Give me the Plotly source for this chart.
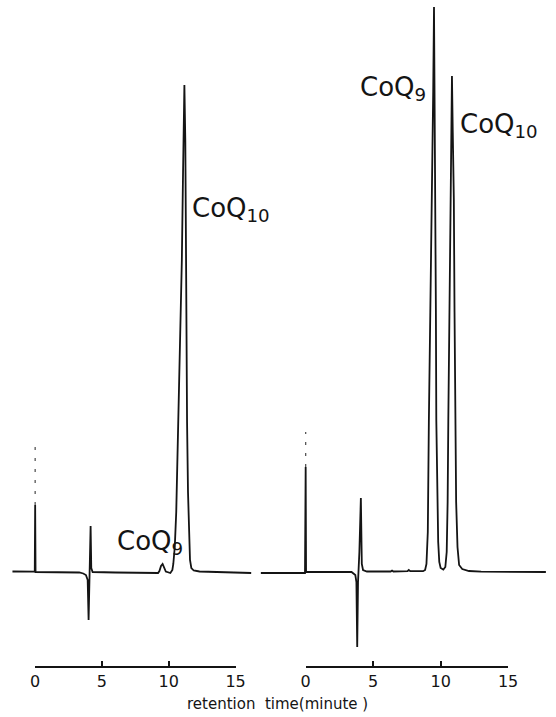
import plotly.graph_objects as go

# ---------------- data ----------------
# retention time (min) and detector signal (arbitrary units, baseline = 0)
left_time = [-1.70, -0.03, 0.00, 0.03, 3.30, 3.60, 3.80, 3.93, 4.00, 4.05, 4.10, 4.15,
             4.20, 4.30, 6.00, 9.20, 9.30, 9.42, 9.54, 9.66, 9.78, 10.12, 10.27, 10.34,
             10.45, 10.56, 10.73, 10.85, 10.98, 11.07, 11.17, 11.24, 11.29, 11.33, 11.37,
             11.44, 11.52, 11.59, 11.69, 11.87, 12.30, 16.17]
left_signal = [0.5, 0.3, 67, 0, -0.5, -1.5, -3, -8, -48, -6, 10, 46,
               4, 0, -0.5, -1, 1, 6, 8, 5, 0.5, -1, 2, 8,
               25, 60, 152, 230, 312, 400, 487, 430, 312, 200, 150,
               80, 35, 12, 4, 1.5, 0.5, -1]

right_time = [-3.32, -0.05, 0.00, 0.03, 3.40, 3.53, 3.68, 3.76, 3.82, 3.88, 3.98, 4.09,
              4.16, 4.25, 4.54, 6.30, 6.40, 6.50, 7.55, 7.64, 7.75, 8.70, 8.85, 8.95,
              9.05, 9.13, 9.25, 9.37, 9.45, 9.51, 9.56, 9.61, 9.65, 9.68, 9.75, 9.82,
              9.90, 10.00, 10.20, 10.35, 10.45, 10.52, 10.57, 10.66, 10.74, 10.80, 10.84,
              10.90, 10.98, 11.03, 11.08, 11.15, 11.25, 11.37, 11.60, 12.10, 13.00, 17.80]
right_signal = [-1, -1, 105, 0, 0, -1, -3, -10, -75, -10, 20, 74,
                8, 2, 0.5, 0.5, 1.5, 0.5, 0.8, 2, 0.8, 0.8, 2, 8,
                40, 152, 270, 372, 480, 565, 480, 372, 260, 152, 70, 30,
                10, 4, 2.5, 5, 20, 70, 152, 260, 372, 450, 496,
                440, 372, 260, 152, 70, 25, 7, 3, 1, 0.3, 0]

# faint (dotted) upper part of the injection marks
left_inj_time = [0, 0]
left_inj_signal = [67, 127]
right_inj_time = [0, 0]
right_inj_signal = [105, 140]

# peak labels: (text, time, signal)
left_labels = [("CoQ<sub>9</sub>", 5.97, 30), ("CoQ<sub>10</sub>", 11.58, 363)]
right_labels = [("CoQ<sub>9</sub>", 3.87, 484), ("CoQ<sub>10</sub>", 11.32, 447)]

scale_ticks = [0, 5, 10, 15]
scale_range = [0, 15]
x_title = "retention\u00a0\u00a0time(minute\u00a0)"

# ---------------- layout geometry ----------------
W, H = 556, 717
base_px = 572          # baseline pixel row
left_zero_px, left_ppm = 31, 13.73
right_zero_px, right_ppm = 309, 13.87
split_px = 260
axis_px = 667

INK = "#141414"
FONT = "DejaVu Sans"

fig = go.Figure()

fig.add_trace(go.Scatter(x=left_time, y=left_signal, mode="lines",
                         line=dict(color=INK, width=1.8), xaxis="x", yaxis="y",
                         hoverinfo="skip", showlegend=False))
fig.add_trace(go.Scatter(x=left_inj_time, y=left_inj_signal, mode="lines",
                         line=dict(color="#555", width=1.3, dash="3px,8px"), xaxis="x", yaxis="y",
                         hoverinfo="skip", showlegend=False))
fig.add_trace(go.Scatter(x=right_time, y=right_signal, mode="lines",
                         line=dict(color=INK, width=1.8), xaxis="x2", yaxis="y",
                         hoverinfo="skip", showlegend=False))
fig.add_trace(go.Scatter(x=right_inj_time, y=right_inj_signal, mode="lines",
                         line=dict(color="#555", width=1.3, dash="3px,8px"), xaxis="x2", yaxis="y",
                         hoverinfo="skip", showlegend=False))
# invisible traces so the time-scale axes are drawn
for xa in ("x3", "x4"):
    fig.add_trace(go.Scatter(x=scale_range, y=[None, None], mode="markers",
                             marker=dict(opacity=0), xaxis=xa, yaxis="y",
                             hoverinfo="skip", showlegend=False))

for text, t, s in left_labels:
    fig.add_annotation(x=t, y=s, xref="x", yref="y", text=text, showarrow=False,
                       xanchor="left", yanchor="middle",
                       font=dict(family=FONT, size=26, color=INK))
for text, t, s in right_labels:
    fig.add_annotation(x=t, y=s, xref="x2", yref="y", text=text, showarrow=False,
                       xanchor="left", yanchor="middle",
                       font=dict(family=FONT, size=26, color=INK))

fig.add_annotation(x=280 / W, y=(H - 704) / H, xref="paper", yref="paper",
                   text=x_title, showarrow=False, xanchor="center", yanchor="middle",
                   font=dict(family=FONT, size=15, color=INK))

hidden = dict(visible=False, showgrid=False, zeroline=False)
scale_axis = dict(range=scale_range, tickvals=scale_ticks, ticks="inside", ticklen=5,
                  tickwidth=1.6, tickcolor=INK, showline=True, linecolor=INK, linewidth=1.8,
                  showgrid=False, zeroline=False, anchor="free", position=(H - axis_px) / H,
                  tickfont=dict(family=FONT, size=16, color=INK), fixedrange=True)

fig.update_layout(
    width=W, height=H, autosize=False,
    margin=dict(l=0, r=0, t=0, b=0),
    paper_bgcolor="white", plot_bgcolor="rgba(0,0,0,0)",
    showlegend=False,
    xaxis=dict(domain=[0, split_px / W],
               range=[(0 - left_zero_px) / left_ppm, (split_px - left_zero_px) / left_ppm],
               **hidden),
    xaxis2=dict(domain=[split_px / W, 1], anchor="y",
                range=[(split_px - right_zero_px) / right_ppm, (W - right_zero_px) / right_ppm],
                **hidden),
    xaxis3=dict(domain=[left_zero_px / W, (left_zero_px + 15 * left_ppm) / W], **scale_axis),
    xaxis4=dict(domain=[right_zero_px / W, (right_zero_px + 15 * right_ppm) / W], **scale_axis),
    yaxis=dict(domain=[0, 1], range=[base_px - H, base_px], **hidden),
)

fig.write_html("out.html", config={"responsive": False})
